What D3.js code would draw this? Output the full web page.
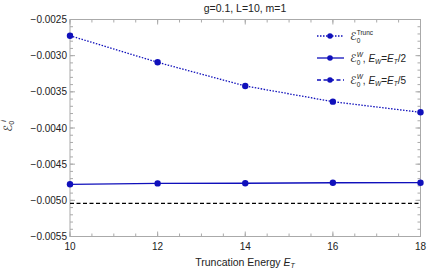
<!DOCTYPE html>
<html>
<head>
<meta charset="utf-8">
<script src="https://cdn.jsdelivr.net/npm/d3@7"></script>
<style>
body{margin:0;background:#fff;}
text{font-family:"Liberation Sans",Arial,sans-serif;}
.scr{font-family:"DejaVu Sans",sans-serif;}
</style>
</head>
<body>
<svg id="chart" width="440" height="273"></svg>
<script>
// truncation energies and ground state energies
let energies=[10,12,14,16,18];
let truncVals=[-0.002724,-0.003092,-0.003419,-0.003636,-0.003783];
let halfVals=[-0.004778,-0.004766,-0.004764,-0.004757,-0.004756];
let fifthVals=[-0.005041,-0.005041,-0.005041,-0.005041,-0.005041];
let xTicks=[10,12,14,16,18];
let yTicks=[-0.0025,-0.0030,-0.0035,-0.0040,-0.0045,-0.0050,-0.0055];

let blue="#1010bb";
let svg=d3.select("#chart");
let pLeft=70,pRight=420.5,pTop=19.5,pBottom=236.5;

let x=d3.scaleLinear().domain([10,18]).range([pLeft,pRight]);
let y=d3.scaleLinear().domain([-0.0055,-0.0025]).range([pBottom,pTop]);

// frame
svg.append("rect")
.attr("x",pLeft).attr("y",pTop)
.attr("width",pRight-pLeft).attr("height",pBottom-pTop)
.attr("fill","none").attr("stroke","#aaa").attr("stroke-width",1);

// minor/major ticks on all four sides
let xMinor=d3.range(10,18.01,0.5);
let yMinor=d3.range(-0.0055,-0.00249,0.0001);
function tickLines(vals,isX,major){
    let len=major?5:3;
    vals.forEach(function(v){
        if(isX){
            let px=x(v);
            svg.append("line").attr("x1",px).attr("x2",px).attr("y1",pBottom).attr("y2",pBottom-len).attr("stroke","#aaa");
            svg.append("line").attr("x1",px).attr("x2",px).attr("y1",pTop).attr("y2",pTop+len).attr("stroke","#aaa");
        } else {
            let py=y(v);
            svg.append("line").attr("y1",py).attr("y2",py).attr("x1",pLeft).attr("x2",pLeft+len).attr("stroke","#aaa");
            svg.append("line").attr("y1",py).attr("y2",py).attr("x1",pRight).attr("x2",pRight-len).attr("stroke","#aaa");
        }
    });
}
tickLines(xMinor,true,false);
tickLines(xTicks,true,true);
tickLines(yMinor,false,false);
tickLines(yTicks,false,true);

// tick labels
svg.selectAll(".xl").data(xTicks).enter().append("text")
.attr("x",function(d){return x(d);})
.attr("y",pBottom+13)
.attr("text-anchor","middle").attr("font-size",10).attr("fill","#222")
.text(function(d){return d;});

svg.selectAll(".yl").data(yTicks).enter().append("text")
.attr("x",pLeft-3)
.attr("y",function(d){return y(d)+3.5;})
.attr("text-anchor","end").attr("font-size",10).attr("fill","#222")
.text(function(d){return "\u2212"+Math.abs(d).toFixed(4);});

// title and axis labels
svg.append("text").attr("x",245).attr("y",12).attr("text-anchor","middle")
.attr("font-size",10.5).attr("fill","#222").text("g=0.1, L=10, m=1");

let xl=svg.append("text").attr("x",245).attr("y",266).attr("text-anchor","middle")
.attr("font-size",10.5).attr("fill","#222");
xl.append("tspan").text("Truncation Energy ");
xl.append("tspan").attr("font-style","italic").text("E");
xl.append("tspan").attr("font-style","italic").attr("font-size",7).attr("dy",2).text("T");

let yl=svg.append("text").attr("transform","translate(12,126) rotate(-90)")
.attr("text-anchor","middle").attr("font-size",10.5).attr("fill","#222");
yl.append("tspan").attr("class","scr").attr("font-style","italic").attr("font-size",11.5).text("\u2130");
yl.append("tspan").attr("font-size",7).attr("dy",2).text("0");
yl.append("tspan").attr("font-size",7).attr("font-style","italic").attr("dy",-8).attr("dx",-1).text("i");

// series
let line=d3.line().x(function(d){return x(d[0]);}).y(function(d){return y(d[1]);});
let series=[
    {vals:fifthVals,color:"#000",dash:"4,2.5",marks:false},
    {vals:halfVals,color:blue,dash:null,marks:true},
    {vals:truncVals,color:blue,dash:"1.5,1.5",marks:true}
];
series.forEach(function(s){
    let pts=energies.map(function(e,i){return [e,s.vals[i]];});
    svg.append("path").datum(pts).attr("d",line)
    .attr("fill","none").attr("stroke",s.color).attr("stroke-width",1.3)
    .attr("stroke-dasharray",s.dash);
    if(s.marks){
        svg.selectAll(null).data(pts).enter().append("circle")
        .attr("cx",function(d){return x(d[0]);})
        .attr("cy",function(d){return y(d[1]);})
        .attr("r",3.2).attr("fill",blue);
    }
});

// legend
let legend=[
    {dash:"1.5,1.5",main:"Trunc"},
    {dash:null,main:"W"},
    {dash:"4,2.5",main:"W"}
];
let legendSub=["","/2","/5"];
legend.forEach(function(l,i){
    let ly=36+i*22;
    svg.append("line").attr("x1",317).attr("x2",344).attr("y1",ly).attr("y2",ly)
    .attr("stroke",blue).attr("stroke-width",1.3).attr("stroke-dasharray",l.dash);
    svg.append("circle").attr("cx",330).attr("cy",ly).attr("r",2.8).attr("fill",blue);
    let t=svg.append("text").attr("x",350).attr("y",ly+4).attr("font-size",10).attr("fill","#222");
    t.append("tspan").attr("class","scr").attr("font-style","italic").attr("font-size",11).text("\u2130");
    t.append("tspan").attr("font-size",6.5).attr("dy",3).text("0");
    t.append("tspan").attr("font-size",6.5).attr("dy",-8).attr("dx",-3.6)
    .attr("font-style",i==0?"normal":"italic").text(l.main);
    if(i>0){
        t.append("tspan").attr("dy",5).text(", ");
        t.append("tspan").attr("font-style","italic").text("E");
        t.append("tspan").attr("font-style","italic").attr("font-size",6.5).attr("dy",2).text("W");
        t.append("tspan").attr("dy",-2).text("=");
        t.append("tspan").attr("font-style","italic").text("E");
        t.append("tspan").attr("font-style","italic").attr("font-size",6.5).attr("dy",2).text("T");
        t.append("tspan").attr("dy",-2).text(legendSub[i]);
    }
});
</script>
</body>
</html>
